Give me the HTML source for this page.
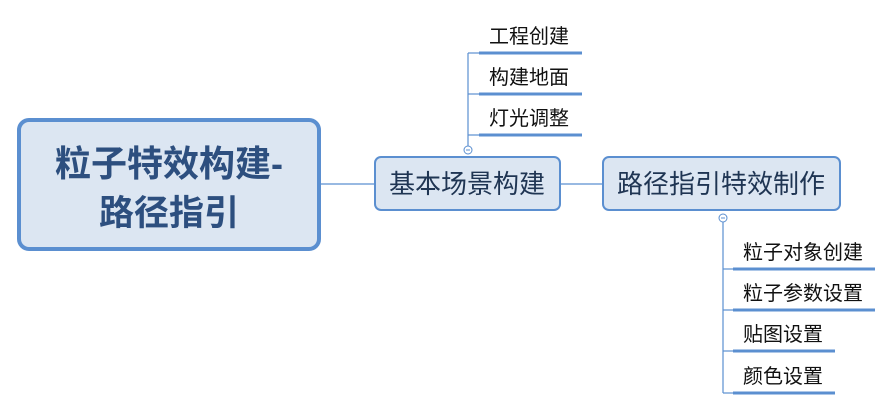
<!DOCTYPE html>
<html><head><meta charset="utf-8"><style>
html,body{margin:0;padding:0;background:#fff;}
svg{display:block;}
text{font-family:"Liberation Sans","Noto Sans CJK SC",sans-serif;}
</style></head><body>
<svg width="893" height="409" viewBox="0 0 893 409" xmlns="http://www.w3.org/2000/svg">
<g stroke="#5b8fd0" fill="none">
<line x1="321" y1="184" x2="374" y2="184" stroke-width="1.2"/>
<line x1="560" y1="184" x2="602" y2="184" stroke-width="1.2"/>
<line x1="468" y1="53" x2="468" y2="146" stroke-width="1.2"/>
<line x1="468" y1="53" x2="479" y2="53" stroke-width="1.2"/>
<line x1="468" y1="94" x2="479" y2="94" stroke-width="1.2"/>
<line x1="468" y1="135" x2="479" y2="135" stroke-width="1.2"/>
<line x1="479" y1="53" x2="582" y2="53" stroke-width="3"/>
<line x1="479" y1="94" x2="582" y2="94" stroke-width="3"/>
<line x1="479" y1="135" x2="582" y2="135" stroke-width="3"/>
<line x1="723" y1="222" x2="723" y2="393" stroke-width="1.2"/>
<line x1="723" y1="269" x2="733" y2="269" stroke-width="1.2"/>
<line x1="723" y1="310" x2="733" y2="310" stroke-width="1.2"/>
<line x1="723" y1="351" x2="733" y2="351" stroke-width="1.2"/>
<line x1="723" y1="393" x2="733" y2="393" stroke-width="1.2"/>
<line x1="733" y1="269" x2="875" y2="269" stroke-width="3"/>
<line x1="733" y1="310" x2="875" y2="310" stroke-width="3"/>
<line x1="733" y1="351" x2="835" y2="351" stroke-width="3"/>
<line x1="733" y1="393" x2="835" y2="393" stroke-width="3"/>
<circle cx="468" cy="150" r="4" fill="#fff" stroke-width="1"/>
<line x1="466" y1="150" x2="470" y2="150" stroke-width="1"/>
<circle cx="723" cy="218" r="4" fill="#fff" stroke-width="1"/>
<line x1="721" y1="218" x2="725" y2="218" stroke-width="1"/>
</g>
<rect x="19" y="120" width="300" height="129" rx="10" fill="#dce6f2" stroke="#5b8fd0" stroke-width="4"/>
<text x="169" y="176" text-anchor="middle" font-size="36" font-weight="bold" fill="#2d4f7f">粒子特效构建-</text>
<text x="169" y="225" text-anchor="middle" font-size="35" font-weight="bold" fill="#2d4f7f">路径指引</text>
<rect x="375" y="157" width="185" height="53" rx="6" fill="#dce6f2" stroke="#5b8fd0" stroke-width="2"/>
<text x="467" y="193" text-anchor="middle" font-size="26" fill="#1f3553">基本场景构建</text>
<rect x="603" y="157" width="237" height="53" rx="6" fill="#dce6f2" stroke="#5b8fd0" stroke-width="2"/>
<text x="721" y="193" text-anchor="middle" font-size="26" fill="#1f3553">路径指引特效制作</text>
<g font-size="20" fill="#111">
<text x="489" y="43">工程创建</text>
<text x="489" y="84">构建地面</text>
<text x="489" y="125">灯光调整</text>
<text x="743" y="259">粒子对象创建</text>
<text x="743" y="300">粒子参数设置</text>
<text x="743" y="341">贴图设置</text>
<text x="743" y="383">颜色设置</text>
</g>
</svg>
</body></html>
